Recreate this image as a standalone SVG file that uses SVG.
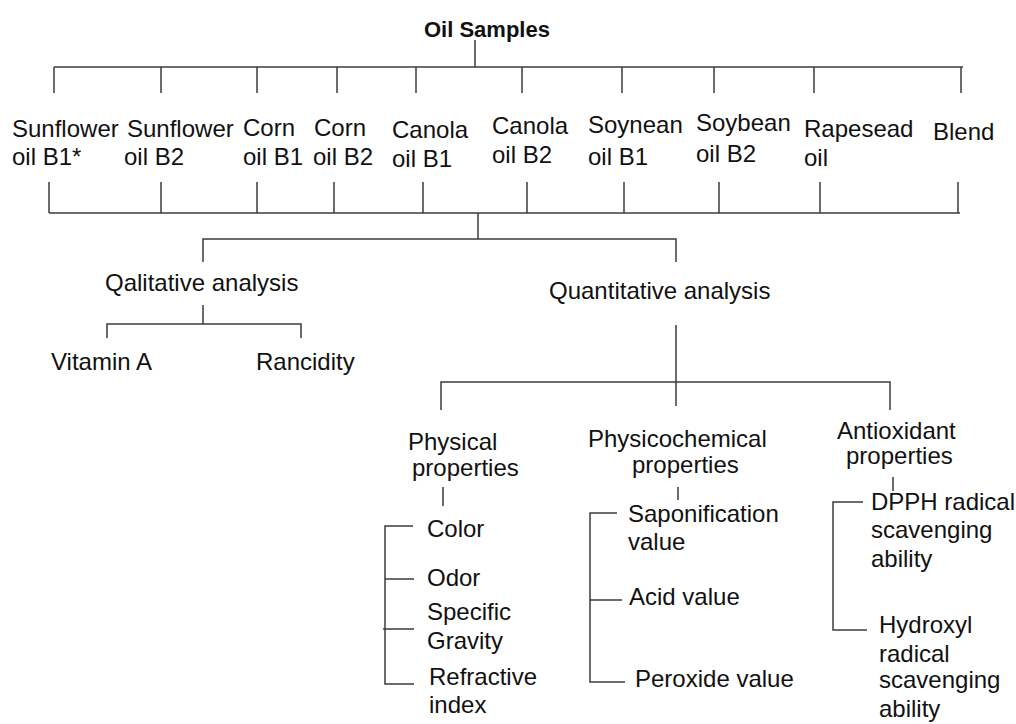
<svg xmlns="http://www.w3.org/2000/svg" width="1016" height="724" viewBox="0 0 1016 724">
<style>
text{font-family:"Liberation Sans",Arial,sans-serif;font-size:24px;fill:#111}
.title{font-weight:bold;font-size:22px}
.ln{fill:none;stroke:#3c3c3c;stroke-width:1.5}
</style>
<rect width="1016" height="724" fill="#fff"/>
<g id="connectors" class="ln">
<path d="M475,40V67M54,67H963"/>
<path d="M54,67V93M161,67V93M257,67V93M337,67V93M416,67V93M522,67V93M622,67V93M714,67V93M814,67V93M961,67V93"/>
<path d="M49,182V213M161,182V213M257,182V213M334,182V213M423,182V213M527,182V213M624,182V213M719,182V213M820,182V213M958,182V213"/>
<path d="M49,213H960M478,213V239"/>
<path d="M203,262V239H676V262"/>
<path d="M203,305V324M107,338V324H301V338"/>
<path d="M676,325V406M441,410V382H890V410"/>
<path d="M443,487V506M413,526H385V684H414M385,579H414M383,629H414"/>
<path d="M678,487V500M617,513H590V682H625M590,600H622"/>
<path d="M893,477V491M863,502H833V630H867"/>
</g>
<g id="oil-samples"><text class="title" x="424" y="37">Oil Samples</text></g>
<g id="sunflower-b1"><text x="12" y="137">Sunflower</text><text x="12" y="165">oil B1*</text></g>
<g id="sunflower-b2"><text x="127" y="137">Sunflower</text><text x="124" y="165">oil B2</text></g>
<g id="corn-b1"><text x="243" y="136">Corn</text><text x="243" y="165">oil B1</text></g>
<g id="corn-b2"><text x="314" y="136">Corn</text><text x="313" y="165">oil B2</text></g>
<g id="canola-b1"><text x="392" y="138">Canola</text><text x="392" y="167">oil B1</text></g>
<g id="canola-b2"><text x="492" y="134">Canola</text><text x="492" y="163">oil B2</text></g>
<g id="soynean-b1"><text x="588" y="133">Soynean</text><text x="588" y="165">oil B1</text></g>
<g id="soybean-b2"><text x="696" y="131">Soybean</text><text x="696" y="162">oil B2</text></g>
<g id="rapesead"><text x="804" y="137">Rapesead</text><text x="804" y="166">oil</text></g>
<g id="blend"><text x="933" y="140">Blend</text></g>
<g id="qualitative"><text x="105" y="291">Qalitative analysis</text></g>
<g id="vitamin-a"><text x="51" y="370">Vitamin A</text></g>
<g id="rancidity"><text x="256" y="370">Rancidity</text></g>
<g id="quantitative"><text x="549" y="299">Quantitative analysis</text></g>
<g id="physical"><text x="408" y="450">Physical</text><text x="412" y="476">properties</text></g>
<g id="color"><text x="427" y="537">Color</text></g>
<g id="odor"><text x="427" y="586">Odor</text></g>
<g id="specific-gravity"><text x="427" y="620">Specific</text><text x="427" y="649">Gravity</text></g>
<g id="refractive-index"><text x="429" y="685">Refractive</text><text x="429" y="713">index</text></g>
<g id="physicochemical"><text x="588" y="447">Physicochemical</text><text x="632" y="473">properties</text></g>
<g id="saponification"><text x="628" y="522">Saponification</text><text x="628" y="550">value</text></g>
<g id="acid-value"><text x="629" y="605">Acid value</text></g>
<g id="peroxide-value"><text x="635" y="687">Peroxide value</text></g>
<g id="antioxidant"><text x="837" y="439">Antioxidant</text><text x="846" y="464">properties</text></g>
<g id="dpph"><text x="871" y="510">DPPH radical</text><text x="871" y="538">scavenging</text><text x="871" y="567">ability</text></g>
<g id="hydroxyl"><text x="879" y="633">Hydroxyl</text><text x="879" y="662">radical</text><text x="879" y="688">scavenging</text><text x="879" y="717">ability</text></g>
</svg>
